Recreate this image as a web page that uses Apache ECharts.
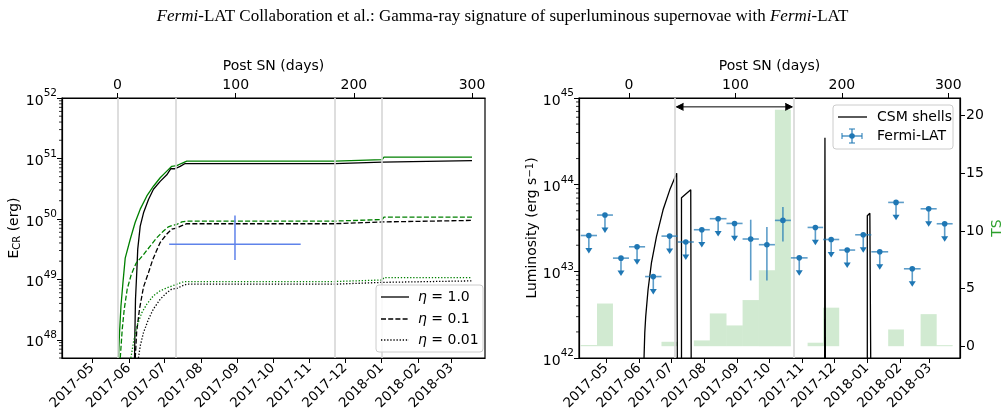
<!DOCTYPE html>
<html>
<head>
<meta charset="utf-8">
<script src="https://cdn.jsdelivr.net/npm/echarts@6/dist/echarts.min.js"></script>
<style>html,body{margin:0;padding:0;background:#fff}#main{width:1005px;height:420px}</style>
</head>
<body>
<div id="main"></div>
<script>
// days after the SN (t0 ~ 2017-05-22)
var dayMin=-47, dayMax=311;
var snDate=Date.UTC(2017,4,22,12);
var monthLabels=['2017-05','2017-06','2017-07','2017-08','2017-09','2017-10','2017-11','2017-12','2018-01','2018-02','2018-03'];
var dayTicks=[0,100,200,300];
var eTicks=[1e48,1e49,1e50,1e51,1e52];
var lTicks=[1e42,1e43,1e44,1e45];
var tsTicks=[0,5,10,15,20];

// left panel: E_CR(t) curves  [day, erg]
var greenSolid=[[0.8,5e47],[1.7,1.32e48],[2.9,3.63e48],[4.6,8.91e48],[6.5,2.24e49],[10.7,4.57e49],[14.9,8.71e49],[19.2,1.45e50],[24.8,2.4e50],[30.4,3.47e50],[36.1,4.79e50],[41.7,6.17e50],[45.9,7.41e50],[50.2,7.59e50],[54.4,8.32e50],[58.6,9.0e50],[184,9.0e50],[185.5,9.55e50],[224,9.55e50],[225.5,1.05e51],[300,1.05e51]];
var blackSolid=[[14.4,5e47],[14.7,1.32e48],[15.2,4.68e48],[16.4,1.48e49],[17.1,3.16e49],[19.2,7.59e49],[22.0,1.26e50],[26.2,2.09e50],[30.4,3.09e50],[36.1,4.17e50],[41.7,5.37e50],[45.1,6.76e50],[48.7,6.76e50],[53.0,7.41e50],[57.2,8.24e50],[184,8.24e50],[185.5,8.71e50],[224,8.71e50],[225.5,9.23e50],[300,9.23e50]];
var greenDash=[[2.3,5e47],[4.0,1.51e48],[5.7,3.24e48],[8.2,6.92e48],[11.6,1.2e49],[15.8,1.86e49],[22.0,2.57e49],[27.6,3.55e49],[33.3,4.9e49],[38.9,6.31e49],[43.1,7.41e49],[46.2,7.76e49],[50.2,8.13e49],[54.4,8.91e49],[58.6,9.2e49],[184,9.2e49],[185.5,9.77e49],[224,9.77e49],[225.5,1.07e50],[300,1.07e50]];
var blackDash=[[15.0,5e47],[16.2,1.35e48],[18.6,3.24e48],[22.0,7.5e48],[26.2,1.29e49],[29.7,2.09e49],[32.7,2.88e49],[36.1,4.07e49],[41.7,5.62e49],[45.9,6.76e49],[50.2,7.08e49],[54.4,7.76e49],[58.6,8.32e49],[184,8.32e49],[185.5,8.91e49],[224,8.91e49],[225.5,9.44e49],[300,9.44e49]];
var greenDot=[[11.3,5e47],[13.5,9.12e47],[16.4,1.7e48],[20.6,2.82e48],[24.8,3.89e48],[30.4,5.37e48],[36.1,6.46e48],[41.7,7.24e48],[45.9,7.76e48],[50.2,8.32e48],[55.7,9.12e48],[61.4,9.2e48],[184,9.2e48],[185.5,9.77e48],[224,9.77e48],[225.5,1.07e49],[300,1.07e49]];
var blackDot=[[17.7,5e47],[19.2,7.94e47],[22.0,1.32e48],[26.2,2.19e48],[30.4,3.24e48],[36.1,4.68e48],[41.7,6.03e48],[45.9,6.92e48],[50.2,7.08e48],[54.4,7.76e48],[58.6,8.32e48],[184,8.32e48],[185.5,8.91e48],[224,8.91e48],[225.5,9.44e48],[300,9.44e48]];
var leftVlines=[0,49.6,184,223.8];
// blue estimate: [day, E, dayLo, dayHi, Elo, Ehi]
var crossPoint=[[99.4,3.8e49,43.7,155,2.09e49,1.14e50]];

// right panel
var binEdges=[-45.4,-30.1,-15.1,0,15.1,30.5,45.8,60.9,75.9,91.6,106.7,122.0,137.1,152.1,167.8,182.4,197.5,212.5,227.7,243.5,258.3,274.0,289.1,304.1];
var fermiL=[2.59e43,4.46e43,1.42e43,1.92e43,8.7e42,2.55e43,2.18e43,3.02e43,4.05e43,3.57e43,2.36e43,2.03e43,3.87e43,1.43e43,3.21e43,2.33e43,1.76e43,2.64e43,1.68e43,6.24e43,1.07e43,5.27e43,3.54e43];
var fermiUL=[1,1,1,1,1,1,1,1,1,1,0,0,0,1,1,1,1,1,1,1,1,1,1];
var fermiLo=[null,null,null,null,null,null,null,null,null,null,7.85e42,7.85e42,2.21e43,null,null,null,null,null,null,null,null,null,null];
var fermiHi=[null,null,null,null,null,null,null,null,null,null,3.94e43,3.24e43,5.52e43,null,null,null,null,null,null,null,null,null,null];
var tsValues=[0.1,3.7,0,0,0,0.38,0,0.5,2.84,1.8,4.0,6.58,20.5,0,0.3,3.34,0,0,0,1.45,0,2.78,0.09];
var csmShells=[[14.1,1e42],[14.8,1.95e42],[15.7,3.02e42],[17.9,6.17e42],[21.1,1.26e43],[25.8,2.51e43],[32.0,5.13e43],[38.3,8.71e43],[44.8,1.35e44],[45.4,1e42],null,
  [49.3,1e42],[49.3,7.08e43],[58.0,8.71e43],[58.4,1e42],null,
  [183.8,1e42],[184.1,3.47e44],[184.5,1e42],null,
  [223.9,1e42],[223.9,4.37e43],[226.3,4.68e43],[227.1,1e42]];
var rightVlines=[43.3,154.5];
var arrowSpan=[[44.6,153.4,7.9e44]];
var ulFactor=0.63;

var FONT='DejaVu Sans';
function monthDay(s){var p=s.split('-');return (Date.UTC(+p[0],+p[1]-1,1)-snDate)/86400000;}
var monthDays=monthLabels.map(monthDay);
function monthFmt(v){for(var i=0;i<monthDays.length;i++){if(Math.abs(monthDays[i]-v)<0.01)return monthLabels[i];}return '';}
function powFmt(v){return '{b|10}{s|'+Math.round(Math.log10(v))+'}';}
function minorVals(lo,hi){var out=[];for(var e=Math.floor(Math.log10(lo));e<Math.log10(hi);e++){for(var k=2;k<10;k++){var v=k*Math.pow(10,e);if(v>=lo&&v<=hi)out.push([dayMin,v]);}}return out;}

var powRich={b:{fontSize:14,fontFamily:FONT,color:'#000',verticalAlign:'bottom',lineHeight:20},s:{fontSize:10.5,fontFamily:FONT,color:'#000',verticalAlign:'top',lineHeight:20}};

function bottomAxis(g){return {type:'value',gridIndex:g,position:'bottom',min:dayMin,max:dayMax,
  axisLine:{onZero:false,lineStyle:{color:'#000',width:1.2}},splitLine:{show:false},
  axisTick:{customValues:monthDays,length:5,lineStyle:{color:'#000'}},
  axisLabel:{customValues:monthDays,formatter:monthFmt,rotate:45,margin:8,fontSize:13.5,fontFamily:FONT,color:'#000'}};}
function topAxis(g){return {type:'value',gridIndex:g,position:'top',min:dayMin,max:dayMax,
  name:'Post SN (days)',nameLocation:'middle',nameGap:25,nameTextStyle:{fontSize:14,fontFamily:FONT,color:'#000'},
  axisLine:{onZero:false,lineStyle:{color:'#000',width:1.2}},splitLine:{show:false},
  axisTick:{customValues:dayTicks,length:5,lineStyle:{color:'#000'}},
  axisLabel:{customValues:dayTicks,margin:6,fontSize:14,fontFamily:FONT,color:'#000'}};}

function renderMinor(params,api){var p=api.coord([api.value(0),api.value(1)]);
  return {type:'line',shape:{x1:p[0]-3,y1:p[1],x2:p[0],y2:p[1]},style:{stroke:'#000',lineWidth:0.8}};}
function renderCross(params,api){
  var c=api.coord([api.value(0),api.value(1)]),a=api.coord([api.value(2),api.value(1)]),b=api.coord([api.value(3),api.value(1)]);
  var lo=api.coord([api.value(0),api.value(4)]),hi=api.coord([api.value(0),api.value(5)]);
  var st={stroke:'#5f83ea',lineWidth:1.5};
  return {type:'group',children:[{type:'line',shape:{x1:a[0],y1:a[1],x2:b[0],y2:b[1]},style:st},{type:'line',shape:{x1:lo[0],y1:lo[1],x2:hi[0],y2:hi[1]},style:st}]};}
function renderTS(params,api){
  var a=api.coord([api.value(0),api.value(2)]),b=api.coord([api.value(1),0]);
  return {type:'rect',shape:{x:a[0],y:a[1],width:b[0]-a[0],height:b[1]-a[1]},style:{fill:'rgba(44,160,44,0.22)'}};}
function renderFermi(params,api){
  var x=api.value(0),y=api.value(1),x0=api.value(2),x1=api.value(3),ul=api.value(4);
  var p=api.coord([x,y]),a=api.coord([x0,y]),b=api.coord([x1,y]);
  var col='#1f77b4',ecol='rgba(31,119,180,0.72)';
  var ch=[{type:'line',shape:{x1:a[0],y1:a[1],x2:b[0],y2:b[1]},style:{stroke:ecol,lineWidth:1.6}}];
  if(ul){var t=api.coord([x,y*ulFactor]);
    ch.push({type:'line',shape:{x1:p[0],y1:p[1],x2:p[0],y2:t[1]-3},style:{stroke:ecol,lineWidth:1.6}});
    ch.push({type:'polygon',shape:{points:[[p[0]-3.5,t[1]-5],[p[0]+3.5,t[1]-5],[p[0],t[1]+0.5]]},style:{fill:col}});
  }else{var lo=api.coord([x,api.value(5)]),hi=api.coord([x,api.value(6)]);
    ch.push({type:'line',shape:{x1:lo[0],y1:lo[1],x2:hi[0],y2:hi[1]},style:{stroke:ecol,lineWidth:1.6}});}
  ch.push({type:'circle',shape:{cx:p[0],cy:p[1],r:2.8},style:{fill:col}});
  return {type:'group',children:ch};}
function renderArrow(params,api){
  var a=api.coord([api.value(0),api.value(2)]),b=api.coord([api.value(1),api.value(2)]);
  var st={stroke:'#000',lineWidth:1};
  return {type:'group',children:[
    {type:'line',shape:{x1:a[0],y1:a[1],x2:b[0],y2:b[1]},style:st},
    {type:'polyline',shape:{points:[[a[0]+7,a[1]-3.5],[a[0],a[1]],[a[0]+7,a[1]+3.5]]},style:st},
    {type:'polyline',shape:{points:[[b[0]-7,b[1]-3.5],[b[0],b[1]],[b[0]-7,b[1]+3.5]]},style:st}]};}

var fermiData=fermiL.map(function(v,i){return [(binEdges[i]+binEdges[i+1])/2,v,binEdges[i],binEdges[i+1],fermiUL[i],fermiLo[i]==null?v:fermiLo[i],fermiHi[i]==null?v:fermiHi[i]];});
var tsData=tsValues.map(function(v,i){return [binEdges[i],binEdges[i+1],v];});

function curve(data,color,dash,name){return {type:'line',name:name,xAxisIndex:0,yAxisIndex:0,data:data,showSymbol:false,symbol:'none',z:4,
  lineStyle:{color:color,width:1.3,type:dash},clip:true,animation:false};}
var vl=function(days,x,y){return {type:'line',xAxisIndex:x,yAxisIndex:y,data:[],z:1,
  markLine:{silent:true,symbol:'none',animation:false,label:{show:false},lineStyle:{color:'#d6d6d6',width:1.6,type:'solid'},data:days.map(function(d){return {xAxis:d};})}};};

var chart=echarts.init(document.getElementById('main'));
chart.setOption({
  animation:false,
  backgroundColor:'#fff',
  title:{text:'{i|Fermi}-LAT Collaboration et al.: Gamma-ray signature of superluminous supernovae with {i|Fermi}-LAT',left:'center',top:3,
    textStyle:{fontFamily:'Liberation Serif',fontSize:17,fontWeight:'normal',color:'#000',rich:{i:{fontFamily:'Liberation Serif',fontSize:17,fontStyle:'italic',color:'#000'}}}},
  grid:[{left:62,right:520,top:98,bottom:62,show:true,borderColor:'#000',borderWidth:1.2},
        {left:579,right:45,top:98,bottom:62,show:true,borderColor:'#000',borderWidth:1.2}],
  xAxis:[bottomAxis(0),topAxis(0),bottomAxis(1),topAxis(1)],
  yAxis:[
    {type:'log',logBase:10,gridIndex:0,min:5e47,max:1.00001e52,
      name:'E{sub|CR} (erg)',nameLocation:'middle',nameGap:40,nameRotate:90,
      nameTextStyle:{fontSize:14,fontFamily:FONT,color:'#000',rich:{sub:{fontSize:10,fontFamily:FONT,color:'#000',verticalAlign:'bottom',padding:[6,0,0,0]}}},
      axisLine:{onZero:false,lineStyle:{color:'#000',width:1.2}},splitLine:{show:false},minorTick:{show:false},
      axisTick:{customValues:eTicks,length:5,lineStyle:{color:'#000'}},
      axisLabel:{customValues:eTicks,formatter:powFmt,rich:powRich,margin:5}},
    {type:'log',logBase:10,gridIndex:1,min:1e42,max:1.00001e45,
      name:'Luminosity (erg s{sup|−1})',nameLocation:'middle',nameGap:40,nameRotate:90,
      nameTextStyle:{fontSize:14,fontFamily:FONT,color:'#000',rich:{sup:{fontSize:10,fontFamily:FONT,color:'#000',verticalAlign:'top'}}},
      axisLine:{onZero:false,lineStyle:{color:'#000',width:1.2}},splitLine:{show:false},minorTick:{show:false},
      axisTick:{customValues:lTicks,length:5,lineStyle:{color:'#000'}},
      axisLabel:{customValues:lTicks,formatter:powFmt,rich:powRich,margin:5}},
    {type:'value',gridIndex:1,position:'right',min:-1.025,max:21.525,
      name:'TS',nameLocation:'middle',nameGap:30,nameRotate:90,nameTextStyle:{fontSize:14,fontFamily:FONT,color:'#2ca02c'},
      axisLine:{show:true,onZero:false,lineStyle:{color:'#000',width:1.2}},splitLine:{show:false},
      axisTick:{customValues:tsTicks,length:5,lineStyle:{color:'#000'}},
      axisLabel:{customValues:tsTicks,margin:6,fontSize:14,fontFamily:FONT,color:'#000'}}
  ],
  series:[
    vl(leftVlines,0,0),
    {type:'custom',xAxisIndex:0,yAxisIndex:0,data:minorVals(5e47,1e52),renderItem:renderMinor,z:5,silent:true},
    curve(greenSolid,'#008000','solid','g1'),
    curve(blackSolid,'#000','solid','k1'),
    curve(greenDash,'#008000',[5,2.2],'g2'),
    curve(blackDash,'#000',[5,2.2],'k2'),
    curve(greenDot,'#008000',[1.3,1.8],'g3'),
    curve(blackDot,'#000',[1.3,1.8],'k3'),
    {type:'custom',xAxisIndex:0,yAxisIndex:0,data:crossPoint,renderItem:renderCross,z:6,silent:true},
    {type:'custom',xAxisIndex:2,yAxisIndex:2,data:tsData,encode:{x:[0,1],y:2},renderItem:renderTS,z:0,silent:true},
    vl(rightVlines,2,1),
    {type:'custom',xAxisIndex:2,yAxisIndex:1,data:minorVals(1e42,1e45),renderItem:renderMinor,z:5,silent:true},
    {type:'line',xAxisIndex:2,yAxisIndex:1,data:csmShells,showSymbol:false,symbol:'none',connectNulls:false,z:4,clip:true,
      lineStyle:{color:'#000',width:1.3}},
    {type:'custom',xAxisIndex:2,yAxisIndex:1,data:fermiData,renderItem:renderFermi,z:6,silent:true},
    {type:'custom',xAxisIndex:2,yAxisIndex:1,data:arrowSpan,encode:{x:[0,1],y:2},renderItem:renderArrow,z:6,silent:true}
  ],
  graphic:[
    {type:'rect',shape:{x:376,y:285,width:107,height:67,r:3},style:{fill:'rgba(255,255,255,0.85)',stroke:'#cccccc',lineWidth:1},z:10},
    {type:'line',shape:{x1:381,y1:297,x2:409,y2:297},style:{stroke:'#000',lineWidth:1.3},z:11},
    {type:'line',shape:{x1:381,y1:319,x2:409,y2:319},style:{stroke:'#000',lineWidth:1.3,lineDash:[5,2.2]},z:11},
    {type:'line',shape:{x1:381,y1:340,x2:409,y2:340},style:{stroke:'#000',lineWidth:1.3,lineDash:[1.3,1.8]},z:11},
    {type:'text',x:418,y:297,style:{text:'{i|η} = 1.0',font:'14px DejaVu Sans',fill:'#000',verticalAlign:'middle',rich:{i:{fontStyle:'italic',fontFamily:FONT,fontSize:14}}},z:11},
    {type:'text',x:418,y:319,style:{text:'{i|η} = 0.1',font:'14px DejaVu Sans',fill:'#000',verticalAlign:'middle',rich:{i:{fontStyle:'italic',fontFamily:FONT,fontSize:14}}},z:11},
    {type:'text',x:418,y:340,style:{text:'{i|η} = 0.01',font:'14px DejaVu Sans',fill:'#000',verticalAlign:'middle',rich:{i:{fontStyle:'italic',fontFamily:FONT,fontSize:14}}},z:11},
    {type:'rect',shape:{x:833,y:105,width:120,height:44,r:3},style:{fill:'rgba(255,255,255,0.85)',stroke:'#cccccc',lineWidth:1},z:10},
    {type:'line',shape:{x1:838,y1:117,x2:867,y2:117},style:{stroke:'#000',lineWidth:1.3},z:11},
    {type:'text',x:877,y:117,style:{text:'CSM shells',font:'14px DejaVu Sans',fill:'#000',verticalAlign:'middle'},z:11},
    {type:'line',shape:{x1:842,y1:136,x2:862,y2:136},style:{stroke:'rgba(31,119,180,0.72)',lineWidth:1.6},z:11},
    {type:'line',shape:{x1:852,y1:129,x2:852,y2:143},style:{stroke:'rgba(31,119,180,0.72)',lineWidth:1.6},z:11},
    {type:'line',shape:{x1:842,y1:133,x2:842,y2:139},style:{stroke:'rgba(31,119,180,0.72)',lineWidth:1.4},z:11},
    {type:'line',shape:{x1:862,y1:133,x2:862,y2:139},style:{stroke:'rgba(31,119,180,0.72)',lineWidth:1.4},z:11},
    {type:'line',shape:{x1:849,y1:129,x2:855,y2:129},style:{stroke:'rgba(31,119,180,0.72)',lineWidth:1.4},z:11},
    {type:'line',shape:{x1:849,y1:143,x2:855,y2:143},style:{stroke:'rgba(31,119,180,0.72)',lineWidth:1.4},z:11},
    {type:'circle',shape:{cx:852,cy:136,r:2.8},style:{fill:'#1f77b4'},z:11},
    {type:'text',x:877,y:136,style:{text:'Fermi-LAT',font:'14px DejaVu Sans',fill:'#000',verticalAlign:'middle'},z:11}
  ]
});
</script>
</body>
</html>
